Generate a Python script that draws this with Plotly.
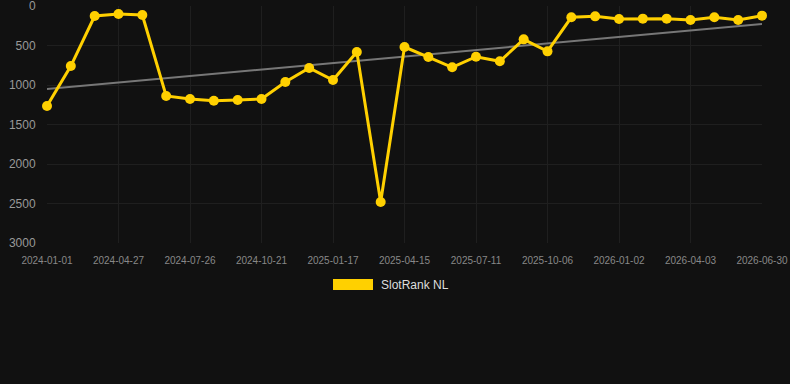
import plotly.graph_objects as go

dates = [
    "2024-01-01", "2024-02-09", "2024-03-19", "2024-04-27", "2024-05-27", "2024-06-26",
    "2024-07-26", "2024-08-24", "2024-09-22", "2024-10-21", "2024-11-20", "2024-12-19",
    "2025-01-17", "2025-02-15", "2025-03-16", "2025-04-15", "2025-05-14", "2025-06-12",
    "2025-07-11", "2025-08-09", "2025-09-07", "2025-10-06", "2025-11-04", "2025-12-03",
    "2026-01-02", "2026-02-01", "2026-03-03", "2026-04-03", "2026-05-02", "2026-05-31",
    "2026-06-30",
]
rank = [
    1266, 760, 127, 101, 114, 1139, 1177, 1200, 1190, 1177, 962, 785,
    937, 582, 2481, 519, 646, 776, 642, 700, 422, 574, 143, 131,
    165, 160, 160, 177, 143, 177, 122,
]
trend_x = ["2024-01-01", "2026-06-30"]
trend_y = [1050, 228]
tick_labels = dates[::3]
y_ticks = [0, 500, 1000, 1500, 2000, 2500, 3000]
series_name = "SlotRank NL"

gold = "#FFD000"
bg = "#111111"
grid = "#1f1f1f"
font = "Liberation Sans, Arial, sans-serif"

fig = go.Figure()
fig.add_trace(go.Scatter(
    x=trend_x, y=trend_y, mode="lines",
    line=dict(color="#777777", width=2), showlegend=False, hoverinfo="skip",
))
fig.add_trace(go.Scatter(
    x=dates, y=rank, mode="lines+markers", name=series_name,
    line=dict(color=gold, width=3),
    marker=dict(color=gold, size=10),
    cliponaxis=False, showlegend=False,
))

fig.update_layout(
    width=790, height=384,
    margin=dict(l=47, r=28, t=6, b=141),
    paper_bgcolor=bg, plot_bgcolor=bg,
    font=dict(family=font, color="#888888"),
    showlegend=False,
)
fig.update_xaxes(
    type="category", categoryorder="array", categoryarray=dates,
    range=[0, len(dates) - 1],
    tickvals=tick_labels, ticktext=tick_labels,
    tickfont=dict(size=10, color="#888888"),
    showgrid=True, gridcolor=grid, gridwidth=1,
    ticks="outside", ticklen=8, tickcolor="rgba(0,0,0,0)",
    zeroline=False, showline=False, automargin=False,
)
fig.update_yaxes(
    range=[3000, 0], tickvals=y_ticks,
    tickfont=dict(size=12, color="#999999"),
    showgrid=True, gridcolor=grid, gridwidth=1,
    ticks="outside", ticklen=8, tickcolor="rgba(0,0,0,0)",
    ticklabeloverflow="allow",
    zeroline=False, showline=False, automargin=False,
)

# legend drawn manually (box swatch + label)
fig.add_shape(type="rect", xref="paper", yref="paper",
              x0=(333 - 47) / 715, x1=(373 - 47) / 715,
              y0=-(290 - 243) / 237, y1=-(279 - 243) / 237,
              fillcolor=gold, line=dict(width=0))
fig.add_annotation(xref="paper", yref="paper",
                   x=(379 - 47) / 715, y=-(284.5 - 243) / 237,
                   xanchor="left", yanchor="middle", showarrow=False,
                   text=series_name, font=dict(size=12, color="#dddddd", family=font))

fig.write_html("out.html")
